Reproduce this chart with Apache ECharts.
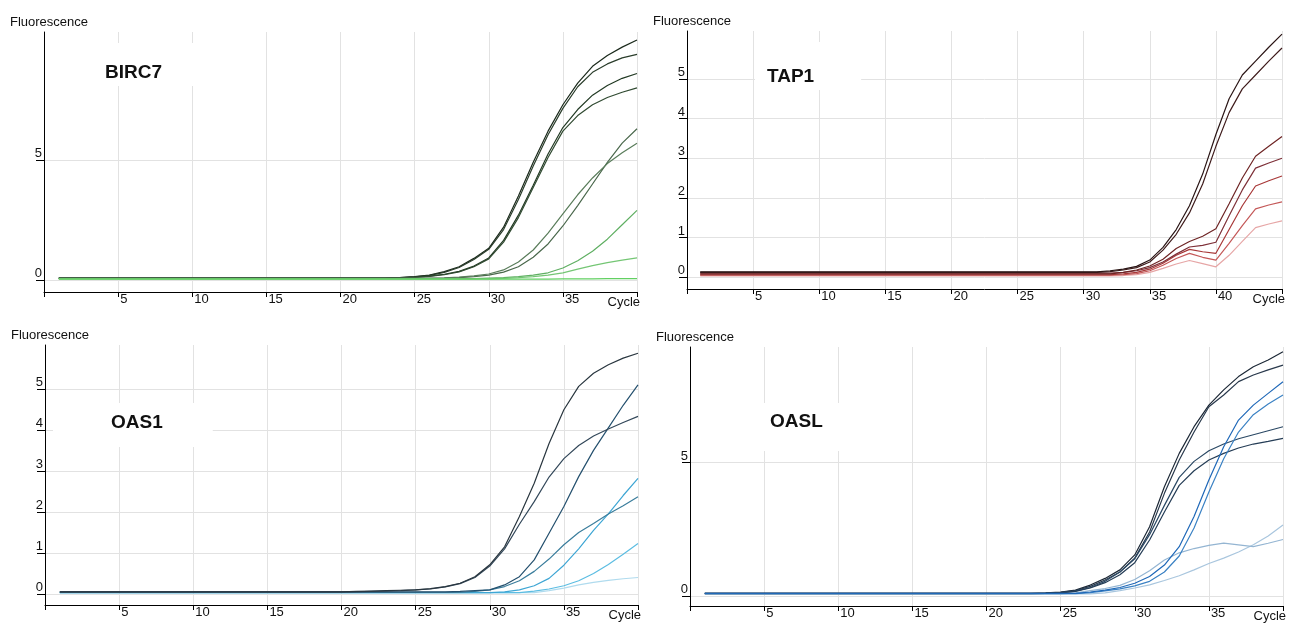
<!DOCTYPE html>
<html>
<head>
<meta charset="utf-8">
<script src="https://cdn.jsdelivr.net/npm/echarts@6/dist/echarts.min.js"></script>
<style>
  html, body { margin: 0; padding: 0; background: #fff; }
  #chart { width: 1290px; height: 623px; }
</style>
</head>
<body>
<div id="chart"></div>
<script>
// cycle numbers
const cycles40 = [1,2,3,4,5,6,7,8,9,10,11,12,13,14,15,16,17,18,19,20,
  21,22,23,24,25,26,27,28,29,30,31,32,33,34,35,36,37,38,39,40];
const cycles45 = [1,2,3,4,5,6,7,8,9,10,11,12,13,14,15,16,17,18,19,20,
  21,22,23,24,25,26,27,28,29,30,31,32,33,34,35,36,37,38,39,40,41,42,43,44,45];

// BIRC7 curves
const birc7A1 = [0.08,0.08,0.08,0.08,0.08,0.08,0.08,0.08,0.08,0.08,
  0.08,0.08,0.08,0.08,0.08,0.08,0.08,0.08,0.08,0.08,
  0.08,0.08,0.08,0.10,0.14,0.20,0.35,0.55,0.90,1.32,
  2.20,3.50,4.90,6.20,7.30,8.20,8.90,9.35,9.70,10.0];
const birc7A2 = [0.08,0.08,0.08,0.08,0.08,0.08,0.08,0.08,0.08,0.08,
  0.08,0.08,0.08,0.08,0.08,0.08,0.08,0.08,0.08,0.08,
  0.08,0.08,0.08,0.10,0.13,0.19,0.32,0.52,0.85,1.28,
  2.10,3.35,4.75,6.05,7.15,8.05,8.65,9.00,9.25,9.40];
const birc7B1 = [0.08,0.08,0.08,0.08,0.08,0.08,0.08,0.08,0.08,0.08,
  0.08,0.08,0.08,0.08,0.08,0.08,0.08,0.08,0.08,0.08,
  0.08,0.08,0.08,0.09,0.12,0.16,0.24,0.36,0.58,0.92,
  1.65,2.70,3.95,5.25,6.35,7.10,7.70,8.10,8.40,8.60];
const birc7B2 = [0.07,0.07,0.07,0.07,0.07,0.07,0.07,0.07,0.07,0.07,
  0.07,0.07,0.07,0.07,0.07,0.07,0.07,0.07,0.07,0.07,
  0.07,0.07,0.07,0.09,0.11,0.15,0.22,0.34,0.55,0.88,
  1.58,2.60,3.85,5.10,6.20,6.85,7.30,7.60,7.82,8.00];
const birc7C1 = [0.07,0.07,0.07,0.07,0.07,0.07,0.07,0.07,0.07,0.07,
  0.07,0.07,0.07,0.07,0.07,0.07,0.07,0.07,0.07,0.07,
  0.07,0.07,0.07,0.07,0.07,0.07,0.08,0.10,0.14,0.20,
  0.33,0.55,0.95,1.50,2.25,3.10,4.00,4.90,5.70,6.30];
const birc7C2 = [0.07,0.07,0.07,0.07,0.07,0.07,0.07,0.07,0.07,0.07,
  0.07,0.07,0.07,0.07,0.07,0.07,0.07,0.07,0.07,0.07,
  0.07,0.07,0.07,0.07,0.07,0.08,0.09,0.12,0.17,0.25,
  0.42,0.75,1.25,1.95,2.75,3.55,4.25,4.85,5.30,5.70];
const birc7D = [0.06,0.06,0.06,0.06,0.06,0.06,0.06,0.06,0.06,0.06,
  0.06,0.06,0.06,0.06,0.06,0.06,0.06,0.06,0.06,0.06,
  0.06,0.06,0.06,0.06,0.06,0.06,0.06,0.06,0.06,0.08,
  0.10,0.14,0.20,0.30,0.50,0.80,1.20,1.70,2.30,2.90];
const birc7E = [0.05,0.05,0.05,0.05,0.05,0.05,0.05,0.05,0.05,0.05,
  0.05,0.05,0.05,0.05,0.05,0.05,0.05,0.05,0.05,0.05,
  0.05,0.05,0.05,0.05,0.05,0.05,0.05,0.05,0.05,0.05,
  0.07,0.10,0.14,0.20,0.30,0.45,0.60,0.72,0.83,0.92];
const birc7F = [0.04,0.04,0.04,0.04,0.04,0.04,0.04,0.04,0.04,0.04,
  0.04,0.04,0.04,0.04,0.04,0.04,0.04,0.04,0.04,0.04,
  0.04,0.04,0.04,0.04,0.04,0.04,0.04,0.04,0.04,0.04,
  0.04,0.04,0.04,0.04,0.05,0.05,0.05,0.06,0.06,0.06];

// TAP1 curves
const tap1R1 = [0.13,0.13,0.13,0.13,0.13,0.13,0.13,0.13,0.13,0.13,
  0.13,0.13,0.13,0.13,0.13,0.13,0.13,0.13,0.13,0.13,
  0.13,0.13,0.13,0.13,0.13,0.13,0.13,0.13,0.13,0.13,
  0.13,0.16,0.20,0.27,0.43,0.75,1.20,1.80,2.60,3.60,
  4.50,5.10,5.45,5.80,6.13];
const tap1R2 = [0.12,0.12,0.12,0.12,0.12,0.12,0.12,0.12,0.12,0.12,
  0.12,0.12,0.12,0.12,0.12,0.12,0.12,0.12,0.12,0.12,
  0.12,0.12,0.12,0.12,0.12,0.12,0.12,0.12,0.12,0.12,
  0.12,0.14,0.18,0.24,0.38,0.68,1.08,1.62,2.35,3.30,
  4.15,4.75,5.10,5.45,5.78];
const tap1R3 = [0.08,0.08,0.08,0.08,0.08,0.08,0.08,0.08,0.08,0.08,
  0.08,0.08,0.08,0.08,0.08,0.08,0.08,0.08,0.08,0.08,
  0.08,0.08,0.08,0.08,0.08,0.08,0.08,0.08,0.08,0.08,
  0.08,0.08,0.12,0.18,0.28,0.45,0.72,0.90,1.03,1.22,
  1.85,2.50,3.05,3.30,3.55];
const tap1R4 = [0.10,0.10,0.10,0.10,0.10,0.10,0.10,0.10,0.10,0.10,
  0.10,0.10,0.10,0.10,0.10,0.10,0.10,0.10,0.10,0.10,
  0.10,0.10,0.10,0.10,0.10,0.10,0.10,0.10,0.10,0.10,
  0.10,0.10,0.12,0.16,0.24,0.38,0.58,0.76,0.80,0.88,
  1.55,2.20,2.75,2.88,3.00];
const tap1R5 = [0.06,0.06,0.06,0.06,0.06,0.06,0.06,0.06,0.06,0.06,
  0.06,0.06,0.06,0.06,0.06,0.06,0.06,0.06,0.06,0.06,
  0.06,0.06,0.06,0.06,0.06,0.06,0.06,0.06,0.06,0.06,
  0.06,0.06,0.08,0.12,0.20,0.35,0.55,0.70,0.64,0.60,
  1.20,1.80,2.30,2.43,2.55];
const tap1R6 = [0.05,0.05,0.05,0.05,0.05,0.05,0.05,0.05,0.05,0.05,
  0.05,0.05,0.05,0.05,0.05,0.05,0.05,0.05,0.05,0.05,
  0.05,0.05,0.05,0.05,0.05,0.05,0.05,0.05,0.05,0.05,
  0.05,0.05,0.06,0.09,0.16,0.30,0.47,0.60,0.50,0.43,
  0.85,1.30,1.72,1.82,1.90];
const tap1R7 = [0.03,0.03,0.03,0.03,0.03,0.03,0.03,0.03,0.03,0.03,
  0.03,0.03,0.03,0.03,0.03,0.03,0.03,0.03,0.03,0.03,
  0.03,0.03,0.03,0.03,0.03,0.03,0.03,0.03,0.03,0.03,
  0.03,0.03,0.04,0.06,0.12,0.22,0.33,0.42,0.34,0.26,
  0.55,0.90,1.25,1.34,1.42];

// OAS1 curves
const oas1O1 = [0.05,0.05,0.05,0.05,0.05,0.05,0.05,0.05,0.05,0.05,
  0.05,0.05,0.05,0.05,0.05,0.05,0.05,0.05,0.05,0.05,
  0.06,0.07,0.08,0.09,0.10,0.13,0.18,0.26,0.42,0.71,
  1.15,1.89,2.70,3.67,4.49,5.06,5.38,5.59,5.75,5.87];
const oas1O2 = [0.05,0.05,0.05,0.05,0.05,0.05,0.05,0.05,0.05,0.05,
  0.05,0.05,0.05,0.05,0.05,0.05,0.05,0.05,0.05,0.05,
  0.05,0.06,0.07,0.08,0.10,0.12,0.17,0.25,0.40,0.68,
  1.10,1.70,2.25,2.85,3.30,3.62,3.85,4.02,4.18,4.33];
const oas1O3 = [0.05,0.05,0.05,0.05,0.05,0.05,0.05,0.05,0.05,0.05,
  0.05,0.05,0.05,0.05,0.05,0.05,0.05,0.05,0.05,0.05,
  0.05,0.05,0.05,0.05,0.05,0.05,0.05,0.06,0.08,0.10,
  0.22,0.42,0.83,1.48,2.13,2.86,3.50,4.05,4.60,5.10];
const oas1O4 = [0.04,0.04,0.04,0.04,0.04,0.04,0.04,0.04,0.04,0.04,
  0.04,0.04,0.04,0.04,0.04,0.04,0.04,0.04,0.04,0.04,
  0.04,0.04,0.04,0.04,0.04,0.04,0.04,0.04,0.06,0.10,
  0.18,0.32,0.55,0.85,1.20,1.50,1.72,1.95,2.15,2.37];
const oas1O5 = [0.03,0.03,0.03,0.03,0.03,0.03,0.03,0.03,0.03,0.03,
  0.03,0.03,0.03,0.03,0.03,0.03,0.03,0.03,0.03,0.03,
  0.03,0.03,0.03,0.03,0.03,0.03,0.03,0.03,0.03,0.03,
  0.05,0.10,0.20,0.38,0.70,1.10,1.55,1.95,2.40,2.82];
const oas1O6 = [0.03,0.03,0.03,0.03,0.03,0.03,0.03,0.03,0.03,0.03,
  0.03,0.03,0.03,0.03,0.03,0.03,0.03,0.03,0.03,0.03,
  0.03,0.03,0.03,0.03,0.03,0.03,0.03,0.03,0.03,0.03,
  0.03,0.03,0.07,0.12,0.20,0.32,0.50,0.72,0.97,1.23];
const oas1O7 = [0.03,0.03,0.03,0.03,0.03,0.03,0.03,0.03,0.03,0.03,
  0.03,0.03,0.03,0.03,0.03,0.03,0.03,0.03,0.03,0.03,
  0.03,0.03,0.03,0.03,0.03,0.03,0.03,0.03,0.03,0.03,
  0.03,0.03,0.03,0.08,0.14,0.22,0.28,0.33,0.37,0.40];

// OASL curves
const oaslL1 = [0.10,0.10,0.10,0.10,0.10,0.10,0.10,0.10,0.10,0.10,
  0.10,0.10,0.10,0.10,0.10,0.10,0.10,0.10,0.10,0.10,
  0.10,0.10,0.10,0.12,0.15,0.22,0.41,0.66,0.98,1.54,
  2.60,4.10,5.35,6.35,7.16,7.73,8.23,8.60,8.85,9.16];
const oaslL2 = [0.10,0.10,0.10,0.10,0.10,0.10,0.10,0.10,0.10,0.10,
  0.10,0.10,0.10,0.10,0.10,0.10,0.10,0.10,0.10,0.10,
  0.10,0.10,0.10,0.11,0.14,0.20,0.36,0.60,0.90,1.42,
  2.40,3.85,5.10,6.15,7.10,7.54,8.04,8.29,8.48,8.66];
const oaslL3 = [0.10,0.10,0.10,0.10,0.10,0.10,0.10,0.10,0.10,0.10,
  0.10,0.10,0.10,0.10,0.10,0.10,0.10,0.10,0.10,0.10,
  0.10,0.10,0.10,0.11,0.13,0.18,0.32,0.55,0.90,1.40,
  2.30,3.40,4.45,5.05,5.45,5.70,5.90,6.05,6.20,6.35];
const oaslL4 = [0.09,0.09,0.09,0.09,0.09,0.09,0.09,0.09,0.09,0.09,
  0.09,0.09,0.09,0.09,0.09,0.09,0.09,0.09,0.09,0.09,
  0.09,0.09,0.09,0.10,0.12,0.17,0.30,0.50,0.80,1.25,
  2.10,3.15,4.15,4.70,5.10,5.35,5.55,5.70,5.80,5.91];
const oaslL5 = [0.10,0.10,0.10,0.10,0.10,0.10,0.10,0.10,0.10,0.10,
  0.10,0.10,0.10,0.10,0.10,0.10,0.10,0.10,0.10,0.10,
  0.10,0.10,0.10,0.10,0.10,0.10,0.15,0.22,0.32,0.48,
  0.73,1.16,1.85,2.98,4.35,5.60,6.60,7.16,7.60,8.04];
const oaslL6 = [0.09,0.09,0.09,0.09,0.09,0.09,0.09,0.09,0.09,0.09,
  0.09,0.09,0.09,0.09,0.09,0.09,0.09,0.09,0.09,0.09,
  0.09,0.09,0.09,0.09,0.09,0.09,0.13,0.19,0.27,0.38,
  0.55,0.90,1.50,2.55,3.90,5.15,6.15,6.80,7.20,7.54];
const oaslL7 = [0.08,0.08,0.08,0.08,0.08,0.08,0.08,0.08,0.08,0.08,
  0.08,0.08,0.08,0.08,0.08,0.08,0.08,0.08,0.08,0.08,
  0.08,0.08,0.08,0.08,0.08,0.08,0.08,0.12,0.20,0.30,
  0.42,0.58,0.76,0.98,1.22,1.42,1.65,1.92,2.25,2.66];
const oaslL8 = [0.08,0.08,0.08,0.08,0.08,0.08,0.08,0.08,0.08,0.08,
  0.08,0.08,0.08,0.08,0.08,0.08,0.08,0.08,0.08,0.08,
  0.08,0.08,0.08,0.08,0.08,0.12,0.20,0.28,0.40,0.62,
  0.95,1.35,1.62,1.78,1.90,1.98,1.92,1.85,1.98,2.12];

// tick labels on the fluorescence axes
const yTicksBirc7 = [0, 5];
const yTicksTap1 = [0, 1, 2, 3, 4, 5];
const yTicksOas1 = [0, 1, 2, 3, 4, 5];
const yTicksOasl = [0, 5];

const font = "'Liberation Sans', Arial, sans-serif";

const panels = [
  {
    gene: 'BIRC7', cycles: cycles40, xMax: 40, yMin: -0.5, yMax: 10.33, yTicks: yTicksBirc7,
    curves: [birc7A1, birc7A2, birc7B1, birc7B2, birc7C1, birc7C2, birc7D, birc7E, birc7F],
    colors: ['#1b2a1c', '#2a3d2b', '#223a24', '#304a31', '#4a684c', '#5a7d5b', '#5faf62', '#74c674', '#62d062'],
    grid: { left: 44, top: 32, width: 593, height: 260 },
    label: { left: 95, top: 43, padding: [20, 36, 4, 10] }
  },
  {
    gene: 'TAP1', cycles: cycles45, xMax: 45, yMin: -0.30, yMax: 6.21, yTicks: yTicksTap1,
    curves: [tap1R7, tap1R6, tap1R5, tap1R4, tap1R3, tap1R2, tap1R1],
    colors: ['#e6a6a6', '#c45858', '#a83838', '#7e3038', '#6e2424', '#3f1c1c', '#2a1515'],
    grid: { left: 687, top: 31, width: 595, height: 258 },
    label: { left: 755, top: 42, padding: [25, 47, 4, 12] }
  },
  {
    gene: 'OAS1', cycles: cycles40, xMax: 40, yMin: -0.27, yMax: 6.07, yTicks: yTicksOas1,
    curves: [oas1O7, oas1O6, oas1O5, oas1O4, oas1O3, oas1O2, oas1O1],
    colors: ['#b0dbee', '#5cbde2', '#3ea6d4', '#3a7d9c', '#24506e', '#33485a', '#29363f'],
    grid: { left: 45, top: 345, width: 593, height: 260 },
    label: { left: 53, top: 403, padding: [10, 50, 15, 58] }
  },
  {
    gene: 'OASL', cycles: cycles40, xMax: 40, yMin: -0.375, yMax: 9.34, yTicks: yTicksOasl,
    curves: [oaslL7, oaslL8, oaslL1, oaslL2, oaslL3, oaslL4, oaslL6, oaslL5],
    colors: ['#a9c6de', '#94b5d2', '#1c2836', '#29394c', '#2a4864', '#253d56', '#3b82c4', '#1f68b8'],
    grid: { left: 690, top: 347, width: 593, height: 259 },
    label: { left: 745, top: 403, padding: [9, 33, 20, 25] }
  }
];

const option = {
  animation: false,
  backgroundColor: '#fff',
  title: [],
  grid: [],
  xAxis: [],
  yAxis: [],
  series: []
};

panels.forEach((p, i) => {
  option.title.push({
    text: p.gene,
    left: p.label.left,
    top: p.label.top,
    padding: p.label.padding,
    backgroundColor: '#fff',
    textStyle: { fontFamily: font, fontSize: 19, fontWeight: 'bold', color: '#111' }
  });
  option.grid.push(Object.assign({ containLabel: false, outerBoundsMode: 'none' }, p.grid));
  option.xAxis.push({
    type: 'value', gridIndex: i, min: 0, max: p.xMax, interval: 5,
    name: 'Cycle', nameLocation: 'end', nameGap: 3,
    nameTextStyle: { fontFamily: font, fontSize: 13, color: '#111', align: 'right', verticalAlign: 'top', padding: [4, 0, 0, 0] },
    axisLine: { onZero: false, lineStyle: { color: '#000', width: 1 } },
    axisTick: { show: true, inside: false, length: 5, lineStyle: { color: '#000' } },
    axisLabel: {
      fontFamily: font, fontSize: 13, color: '#111', margin: 1, align: 'left', padding: [0, 0, 0, 2],
      formatter: v => (v === 0 || v === p.xMax) ? '' : String(v)
    },
    splitLine: { show: true, lineStyle: { color: '#e2e2e2', width: 1 } }
  });
  option.yAxis.push({
    type: 'value', gridIndex: i, min: p.yMin, max: p.yMax,
    name: 'Fluorescence', nameLocation: 'end', nameGap: 3,
    nameTextStyle: { fontFamily: font, fontSize: 13, color: '#111', align: 'center', verticalAlign: 'bottom', padding: [0, 0, 0, 10] },
    axisLine: { show: true, onZero: false, lineStyle: { color: '#000', width: 1 } },
    axisTick: { show: true, inside: false, length: 8, customValues: p.yTicks, lineStyle: { color: '#000' } },
    axisLabel: {
      fontFamily: font, fontSize: 13, color: '#111', margin: 2, verticalAlign: 'bottom',
      customValues: p.yTicks
    },
    splitLine: { show: true, lineStyle: { color: '#e2e2e2', width: 1 } }
  });
  p.curves.forEach((vals, k) => {
    option.series.push({
      type: 'line', xAxisIndex: i, yAxisIndex: i,
      data: p.cycles.map((c, j) => [c, vals[j]]),
      showSymbol: false, symbol: 'none', silent: true,
      lineStyle: { color: p.colors[k], width: 1.2 }
    });
  });
});

const chart = echarts.init(document.getElementById('chart'), null, { renderer: 'canvas' });
chart.setOption(option);
</script>
</body>
</html>
